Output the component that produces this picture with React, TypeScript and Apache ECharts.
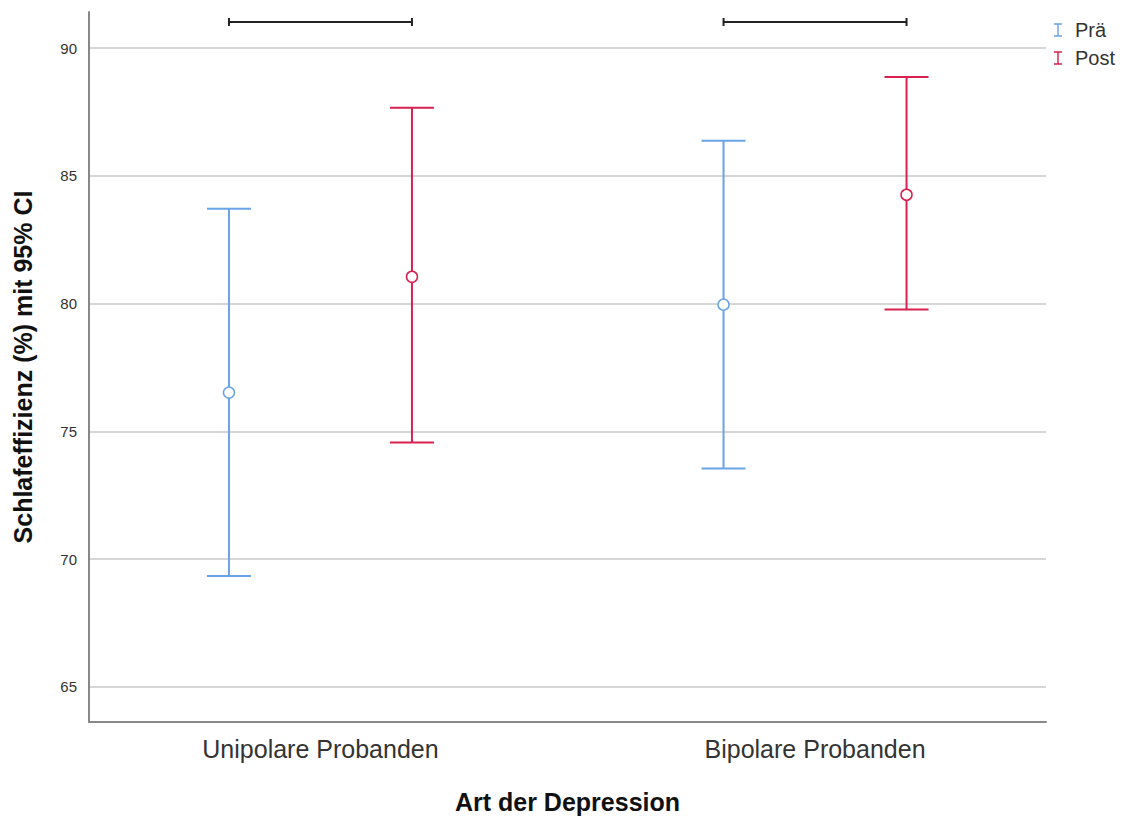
import React, { useEffect, useRef } from "react";
import * as echarts from "echarts";

const groups = ["Unipolare Probanden", "Bipolare Probanden"];
const seriesNames = ["Prä", "Post"];
const praeMean = [76.52, 79.96];
const praeLow = [69.34, 73.55];
const praeHigh = [83.71, 86.37];
const postMean = [81.05, 84.26];
const postLow = [74.57, 79.77];
const postHigh = [87.66, 88.87];
const bracketLevel = [91.02, 91.02];
const yTicks = [65, 70, 75, 80, 85, 90];

const OFFSET = 0.185;
const COLORS = ["#6aa3e6", "#d8214f"];

function errorBarSeries(name: string, color: string, mean: number[], low: number[], high: number[], off: number) {
  return {
    name,
    type: "custom",
    itemStyle: { color },
    data: mean.map((m, i) => [i + off, m, low[i], high[i]]),
    encode: { x: 0, y: [1, 2, 3] },
    renderItem: (params: any, api: any) => {
      const x = api.value(0);
      const pm = api.coord([x, api.value(1)]);
      const pl = api.coord([x, api.value(2)]);
      const ph = api.coord([x, api.value(3)]);
      const cap = 22;
      const style = { stroke: color, lineWidth: 2, fill: null };
      return {
        type: "group",
        children: [
          { type: "line", shape: { x1: pl[0], y1: pl[1], x2: ph[0], y2: ph[1] }, style },
          { type: "line", shape: { x1: ph[0] - cap, y1: ph[1], x2: ph[0] + cap, y2: ph[1] }, style },
          { type: "line", shape: { x1: pl[0] - cap, y1: pl[1], x2: pl[0] + cap, y2: pl[1] }, style },
          { type: "circle", shape: { cx: pm[0], cy: pm[1], r: 5.5 }, style: { stroke: color, lineWidth: 1.5, fill: "#fff" } },
        ],
      };
    },
  };
}

export default function App() {
  const ref = useRef<HTMLDivElement>(null);
  useEffect(() => {
    document.body.style.margin = "0";
    const chart = echarts.init(ref.current!, null, { renderer: "svg" });
    const font = "'Liberation Sans', Arial, sans-serif";
    chart.setOption({
      animation: false,
      backgroundColor: "#fff",
      textStyle: { fontFamily: font },
      grid: { left: 89, right: 85, top: 12, bottom: 96 },
      legend: {
        right: 11,
        top: 15,
        orient: "vertical",
        itemGap: 8,
        itemWidth: 8,
        itemHeight: 14,
        icon: "path://M0,0h9v1.6h-3.7v11.8h3.7v1.6h-9v-1.6h3.7v-11.8h-3.7z",
        textStyle: { fontSize: 20, color: "#333", fontFamily: font, padding: [0, 0, 0, 8] },
        data: seriesNames,
      },
      xAxis: {
        type: "value",
        min: -0.468,
        max: 1.467,
        name: "Art der Depression",
        nameLocation: "middle",
        nameGap: 67,
        nameTextStyle: { fontSize: 25, fontWeight: "bold", color: "#111", fontFamily: font },
        axisLine: { show: true, onZero: false, lineStyle: { color: "#888", width: 2 } },
        axisTick: { show: false },
        splitLine: { show: false },
        axisLabel: {
          customValues: [0, 1],
          formatter: (v: number) => groups[Math.round(v)] ?? "",
          fontSize: 25,
          color: "#333",
          margin: 14,
          fontFamily: font,
        },
      },
      yAxis: {
        type: "value",
        min: 63.63,
        max: 91.41,
        name: "Schlafeffizienz (%) mit 95% CI",
        nameLocation: "middle",
        nameGap: 54,
        nameTextStyle: { fontSize: 25, fontWeight: "bold", color: "#111", fontFamily: font },
        axisLine: { show: true, onZero: false, lineStyle: { color: "#888", width: 2 } },
        axisTick: { show: false, customValues: yTicks },
        axisLabel: { customValues: yTicks, fontSize: 15, color: "#333", margin: 12, fontFamily: font },
        splitLine: { show: true, lineStyle: { color: "#c8c8c8", width: 1.5 } },
      },
      series: [
        errorBarSeries(seriesNames[0], COLORS[0], praeMean, praeLow, praeHigh, -OFFSET),
        errorBarSeries(seriesNames[1], COLORS[1], postMean, postLow, postHigh, OFFSET),
        {
          name: "brackets",
          type: "custom",
          silent: true,
          data: bracketLevel.map((v, i) => [i - OFFSET, i + OFFSET, v]),
          encode: { x: [0, 1], y: 2 },
          renderItem: (params: any, api: any) => {
            const a = api.coord([api.value(0), api.value(2)]);
            const b = api.coord([api.value(1), api.value(2)]);
            const style = { stroke: "#222", lineWidth: 2 };
            return {
              type: "group",
              children: [
                { type: "line", shape: { x1: a[0], y1: a[1], x2: b[0], y2: b[1] }, style },
                { type: "line", shape: { x1: a[0], y1: a[1] - 4, x2: a[0], y2: a[1] + 4 }, style },
                { type: "line", shape: { x1: b[0], y1: b[1] - 4, x2: b[0], y2: b[1] + 4 }, style },
              ],
            };
          },
        },
      ],
    });
    return () => chart.dispose();
  }, []);
  return <div ref={ref} style={{ width: 1131, height: 819 }} />;
}
